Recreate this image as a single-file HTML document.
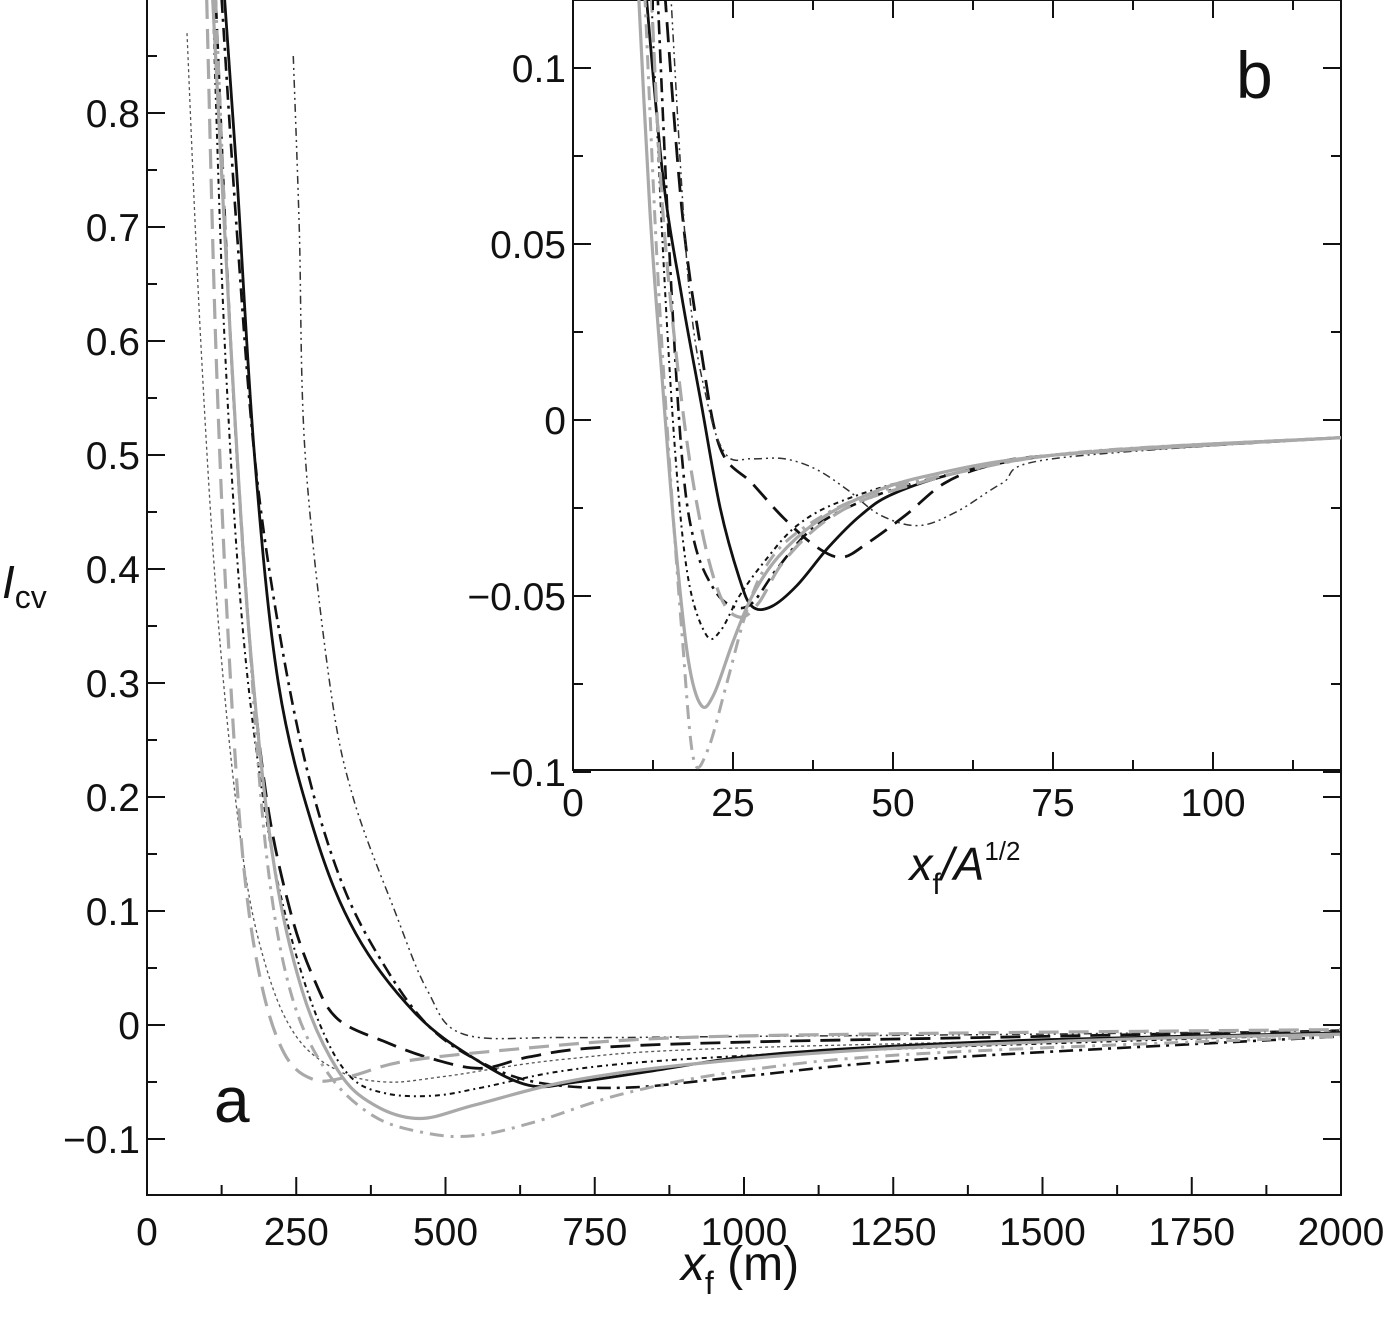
<!DOCTYPE html>
<html><head><meta charset="utf-8"><style>
body{margin:0;background:#fff}
svg text{font-family:"Liberation Sans",sans-serif;fill:#111}
</style></head><body>
<svg id="c" width="1400" height="1323" viewBox="0 0 1400 1323"></svg>
<script>
// main panel data (x in m, I_cv)
const mainXTicks=[0,250,500,750,1000,1250,1500,1750,2000];
const mainYTicks=[-0.1,0,0.1,0.2,0.3,0.4,0.5,0.6,0.7,0.8];
const mainBlackSolid=[[130,0.9],[150,0.75],[180,0.5],[220,0.3],[280,0.17],[350,0.08],[450,0.01],[550,-0.03],[640,-0.053],[720,-0.05],[850,-0.04],[1000,-0.028],[1200,-0.02],[1500,-0.013],[2000,-0.007]];
const mainGraySolid=[[110,0.9],[140,0.6],[170,0.35],[210,0.15],[260,0.03],[320,-0.04],[380,-0.07],[457,-0.082],[550,-0.07],[700,-0.05],[900,-0.035],[1200,-0.022],[1600,-0.013],[2000,-0.008]];
const mainBlackLongDash=[[115,0.9],[140,0.6],[170,0.35],[200,0.2],[240,0.1],[280,0.04],[320,0.005],[400,-0.015],[480,-0.03],[560,-0.038],[640,-0.028],[750,-0.02],[1000,-0.015],[1500,-0.01],[2000,-0.005]];
const mainGrayLongDash=[[100,0.9],[115,0.6],[135,0.35],[160,0.15],[190,0.04],[230,-0.025],[280,-0.048],[340,-0.045],[430,-0.032],[600,-0.022],[850,-0.012],[1200,-0.008],[2000,-0.004]];
const mainGrayDashDot=[[115,0.9],[140,0.6],[170,0.35],[200,0.15],[240,0.03],[300,-0.04],[380,-0.08],[470,-0.095],[550,-0.097],[650,-0.085],[800,-0.06],[1000,-0.04],[1300,-0.025],[2000,-0.01]];
const mainThinDashDotDot=[[245,0.85],[255,0.7],[265,0.5],[306,0.3],[345,0.2],[415,0.1],[470,0.03],[530,-0.008],[700,-0.011],[1000,-0.01],[1500,-0.008],[2000,-0.005]];
const mainBlackDashDot=[[125,0.9],[150,0.7],[180,0.5],[220,0.35],[270,0.22],[330,0.12],[400,0.05],[470,0.0],[550,-0.03],[650,-0.05],[800,-0.055],[1000,-0.045],[1300,-0.03],[2000,-0.01]];
const mainBlackDotted=[[110,0.9],[130,0.6],[160,0.35],[200,0.18],[240,0.08],[290,0.0],[340,-0.045],[400,-0.06],[480,-0.062],[560,-0.055],[700,-0.04],[900,-0.03],[1300,-0.02],[2000,-0.008]];
const mainThinDotted=[[67,0.87],[90,0.6],[120,0.35],[160,0.15],[200,0.05],[250,-0.01],[320,-0.04],[400,-0.05],[500,-0.045],[700,-0.03],[1000,-0.02],[2000,-0.008]];
// inset data (x/A^1/2, I_cv)
const insXTicks=[0,25,50,75,100];
const insYTicks=[-0.1,-0.05,0,0.05,0.1];
const insYLabels=["\u22120.1","\u22120.05","0","0.05","0.1"];
const insBlackSolid=[[11,0.13],[14,0.07],[17,0.035],[20,0.005],[23,-0.025],[26,-0.045],[28,-0.053],[31,-0.053],[35,-0.047],[40,-0.036],[45,-0.027],[50,-0.021],[60,-0.015],[75,-0.01],[100,-0.007],[120,-0.005]];
const insGraySolid=[[10,0.13],[12,0.06],[14,0.01],[16,-0.035],[18,-0.068],[20,-0.081],[22,-0.078],[25,-0.063],[28,-0.05],[32,-0.039],[38,-0.029],[45,-0.022],[55,-0.016],[75,-0.01],[120,-0.005]];
const insBlackLongDash=[[14,0.13],[17,0.06],[20,0.02],[23,-0.008],[28,-0.018],[33,-0.028],[38,-0.036],[42,-0.039],[46,-0.035],[52,-0.027],[58,-0.018],[65,-0.013],[75,-0.01],[120,-0.005]];
const insThinDashDotDot=[[15,0.13],[18,0.04],[21,0.005],[24,-0.01],[28,-0.011],[33,-0.011],[38,-0.014],[43,-0.02],[48,-0.027],[54,-0.03],[60,-0.026],[67,-0.018],[75,-0.011],[120,-0.005]];
const insGrayDashDot=[[11,0.13],[13,0.05],[15,-0.01],[17,-0.06],[18.8,-0.096],[21,-0.094],[24,-0.075],[27,-0.055],[30,-0.042],[35,-0.032],[45,-0.022],[60,-0.015],[80,-0.009],[120,-0.005]];
const insBlackDotted=[[12,0.13],[14,0.05],[16,-0.01],[18,-0.045],[20.8,-0.061],[23,-0.06],[26,-0.05],[30,-0.04],[35,-0.03],[42,-0.023],[55,-0.016],[75,-0.01],[120,-0.005]];
const insGrayLongDash=[[12,0.13],[14,0.06],[17,0.005],[20,-0.03],[23,-0.05],[26,-0.056],[29,-0.052],[33,-0.04],[40,-0.028],[50,-0.02],[75,-0.01],[120,-0.005]];
const insBlackDashDot=[[13,0.13],[15,0.05],[17,-0.01],[19,-0.035],[22,-0.048],[25,-0.053],[28,-0.052],[32,-0.042],[38,-0.03],[48,-0.021],[60,-0.015],[75,-0.01],[120,-0.005]];

const NS='http://www.w3.org/2000/svg';
const svg=document.getElementById('c');
function mk(tag,attrs,parent){const e=document.createElementNS(NS,tag);for(const k in attrs)e.setAttribute(k,attrs[k]);(parent||svg).appendChild(e);return e;}
const M={l:147,r:1341,t:0,b:1195};
const mx=v=>147+v*(1341-147)/2000;
const my=v=>1025-v*1140;
const I={l:573,r:1341,t:0,b:770};
const ix=v=>573+v*6.4;
const iy=v=>420-v*3520;
function path(pts,fx,fy){
  const p=pts.map(d=>[fx(d[0]),fy(d[1])]);
  let s='M'+p[0][0]+','+p[0][1];
  for(let i=0;i<p.length-1;i++){
    const p0=p[i-1]||p[i],p1=p[i],p2=p[i+1],p3=p[i+2]||p2;
    const c1=[p1[0]+(p2[0]-p0[0])/6,p1[1]+(p2[1]-p0[1])/6];
    const c2=[p2[0]-(p3[0]-p1[0])/6,p2[1]-(p3[1]-p1[1])/6];
    s+=' C'+c1[0]+','+c1[1]+' '+c2[0]+','+c2[1]+' '+p2[0]+','+p2[1];
  }
  return s;
}
const BK='#111',GR='#a9a9a9';
const styles={
 solidB:[BK,2.8,''],solidG:[GR,3.2,''],ldB:[BK,2.8,'20 10'],ldG:[GR,3.2,'20 10'],
 ddG:[GR,3,'14 7 3 7'],tddB:['#333',1.5,'8 4 2 4 2 4'],ddB:[BK,2.6,'14 6 3 6'],dotB:[BK,2,'5 4 2 4'],tdot:['#555',1.3,'3 3']
};
const defs=mk('defs',{});
const cpM=mk('clipPath',{id:'cm'},defs);mk('rect',{x:M.l,y:M.t,width:M.r-M.l,height:M.b-M.t},cpM);
const cpI=mk('clipPath',{id:'ci'},defs);mk('rect',{x:I.l,y:I.t,width:I.r-I.l,height:I.b-I.t},cpI);

const gm=mk('g',{'clip-path':'url(#cm)'});


const mainSeries=[['main-thin-dotted',mainThinDotted,'tdot'],['main-black-dotted',mainBlackDotted,'dotB'],['main-black-long-dash',mainBlackLongDash,'ldB'],['main-black-solid',mainBlackSolid,'solidB'],['main-black-dash-dot',mainBlackDashDot,'ddB'],['main-thin-dash-dot-dot',mainThinDashDotDot,'tddB'],['main-gray-dash-dot',mainGrayDashDot,'ddG'],['main-gray-solid',mainGraySolid,'solidG'],['main-gray-long-dash',mainGrayLongDash,'ldG']];
mainSeries.forEach(s=>{const st=styles[s[2]];const e=mk('path',{d:path(s[1],mx,my),fill:'none',stroke:st[0],'stroke-width':st[1],'stroke-dasharray':st[2]},gm);

});

const fr=mk('rect',{x:M.l,y:M.t-2,width:M.r-M.l,height:M.b-M.t+2,fill:'none',stroke:BK,'stroke-width':2});


mainXTicks.forEach((v,i)=>{const x=mx(v);
 if(v>0&&v<2000)mk('line',{x1:x,x2:x,y1:M.b,y2:M.b-18,stroke:BK,'stroke-width':2});
 if(i<mainXTicks.length-1){const xm=mx(v+125);mk('line',{x1:xm,x2:xm,y1:M.b,y2:M.b-10,stroke:BK,'stroke-width':2});}
 const t=mk('text',{x:x,y:1245,'font-size':39,'text-anchor':'middle'});t.textContent=String(v);
 
 });
mainYTicks.forEach(v=>{const y=my(v);
 mk('line',{x1:M.l,x2:M.l+18,y1:y,y2:y,stroke:BK,'stroke-width':2});
 mk('line',{x1:M.r,x2:M.r-18,y1:y,y2:y,stroke:BK,'stroke-width':2});
 const ym=my(v+0.05);mk('line',{x1:M.l,x2:M.l+10,y1:ym,y2:ym,stroke:BK,'stroke-width':2});
 mk('line',{x1:M.r,x2:M.r-10,y1:ym,y2:ym,stroke:BK,'stroke-width':2});
 const t=mk('text',{x:140,y:y+14,'font-size':39,'text-anchor':'end'});t.textContent=v<0?'\u2212'+Math.abs(v).toFixed(1):(v===0?'0':v.toFixed(1));
 
 });
const xl=mk('text',{x:740,y:1280,'font-size':48,'text-anchor':'middle'});
xl.innerHTML='<tspan font-style="italic">x</tspan><tspan font-size="32" dy="14">f</tspan><tspan dy="-14"> (m)</tspan>';


const yl=mk('text',{x:2,y:598,'font-size':46});
yl.innerHTML='<tspan font-style="italic">I</tspan><tspan font-size="32" dy="10">cv</tspan>';


const la=mk('text',{x:214,y:1122,'font-size':64});la.textContent='a';



const ib=mk('rect',{x:I.l,y:I.t,width:I.r-I.l,height:I.b-I.t,fill:'#fff',stroke:BK,'stroke-width':2});


const gi=mk('g',{'clip-path':'url(#ci)'});


const insSeries=[['inset-black-dotted',insBlackDotted,'dotB'],['inset-black-dash-dot',insBlackDashDot,'ddB'],['inset-black-long-dash',insBlackLongDash,'ldB'],['inset-thin-dash-dot-dot',insThinDashDotDot,'tddB'],['inset-black-solid',insBlackSolid,'solidB'],['inset-gray-dash-dot',insGrayDashDot,'ddG'],['inset-gray-long-dash',insGrayLongDash,'ldG'],['inset-gray-solid',insGraySolid,'solidG']];
insSeries.forEach(s=>{const st=styles[s[2]];const e=mk('path',{d:path(s[1],ix,iy),fill:'none',stroke:st[0],'stroke-width':st[1],'stroke-dasharray':st[2]},gi);

});
insXTicks.forEach(v=>{const x=ix(v);
 if(v>0){mk('line',{x1:x,x2:x,y1:I.b,y2:I.b-18,stroke:BK,'stroke-width':2});mk('line',{x1:x,x2:x,y1:0,y2:18,stroke:BK,'stroke-width':2});}
 const xm=ix(v+12.5);if(xm<I.r){mk('line',{x1:xm,x2:xm,y1:I.b,y2:I.b-10,stroke:BK,'stroke-width':2});mk('line',{x1:xm,x2:xm,y1:0,y2:10,stroke:BK,'stroke-width':2});}
 const t=mk('text',{x:x,y:816,'font-size':39,'text-anchor':'middle'});t.textContent=String(v);
 
 });
insYTicks.forEach((v,i)=>{const y=iy(v);
 mk('line',{x1:I.l,x2:I.l+18,y1:y,y2:y,stroke:BK,'stroke-width':2});
 mk('line',{x1:I.r,x2:I.r-18,y1:y,y2:y,stroke:BK,'stroke-width':2});
 const ym=iy(v+0.025);if(ym>0){mk('line',{x1:I.l,x2:I.l+10,y1:ym,y2:ym,stroke:BK,'stroke-width':2});mk('line',{x1:I.r,x2:I.r-10,y1:ym,y2:ym,stroke:BK,'stroke-width':2});}
 const t=mk('text',{x:566,y:y+14,'font-size':39,'text-anchor':'end'});t.textContent=insYLabels[i];
 
 });
const ixl=mk('text',{x:965,y:880,'font-size':46,'text-anchor':'middle'});
ixl.innerHTML='<tspan font-style="italic">x</tspan><tspan font-size="30" dy="14">f</tspan><tspan dy="-14" font-style="italic">/A</tspan><tspan font-size="26" dy="-20">1/2</tspan>';


const lb=mk('text',{x:1236,y:98,'font-size':66});lb.textContent='b';


</script>
</body></html>
